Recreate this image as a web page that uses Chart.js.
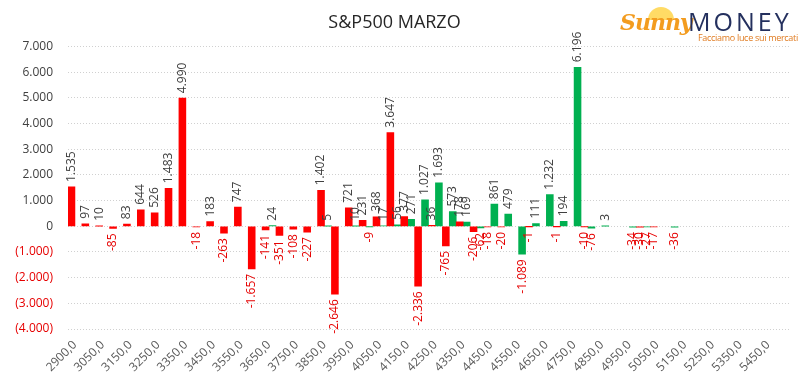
<!DOCTYPE html>
<html>
<head>
<meta charset="utf-8">
<script src="https://cdn.jsdelivr.net/npm/chart.js@4.4.1/dist/chart.umd.min.js"></script>
<style>
  html, body { margin: 0; padding: 0; background: #fff; }
  #wrap { position: relative; width: 806px; height: 384px; }
  #logo { position: absolute; left: 618px; top: 3px; width: 186px; height: 42px; font-family: "Open Sans", sans-serif; }
  #logo .sunny { position: absolute; left: 2px; top: 6px; font-family: "DejaVu Serif", serif; font-style: italic; font-weight: bold; font-size: 22px; color: #f39c1f; letter-spacing: -1px; }
  #logo .sun { position: absolute; left: 30px; top: 4px; width: 26px; height: 13px; border-radius: 13px 13px 0 0; background: #ffd23f; opacity: 0.8; }
  #logo .money { position: absolute; left: 70px; top: 1px; font-size: 25px; color: #24305e; letter-spacing: 3px; }
  #logo .tag { position: absolute; left: 80px; top: 28px; font-size: 9px; color: #e07b20; white-space: nowrap; letter-spacing: -0.3px; }
</style>
</head>
<body>
<div id="wrap">
  <canvas id="c" width="806" height="384"></canvas>
  <div id="logo"><div class="sun"></div><div class="sunny">Sunny</div><div class="money">MONEY</div><div class="tag">Facciamo luce sui mercati</div></div>
</div>
<script>
const title = "S&P500 MARZO";
const strikes = ["2900,0","3000,0","3050,0","3100,0","3150,0","3200,0","3250,0","3300,0","3350,0","3400,0",
  "3450,0","3500,0","3550,0","3600,0","3650,0","3700,0","3750,0","3800,0","3850,0","3900,0",
  "3950,0","4000,0","4050,0","4100,0","4150,0","4200,0","4250,0","4300,0","4350,0","4400,0",
  "4450,0","4500,0","4550,0","4600,0","4650,0","4700,0","4750,0","4800,0","4850,0","4900,0",
  "4950,0","5000,0","5050,0","5100,0","5150,0","5200,0","5250,0","5300,0","5350,0","5400,0",
  "5450,0","5500,0"];
const redValues = [1535, 97, 10, -85, 83, 644, 526, 1483, 4990, -18,
  183, -263, 747, -1657, -141, -351, -108, -227, 1402, -2646,
  721, 231, 368, 3647, 377, -2336, 36, -765, 178, -206,
  -18, -20, null, -1, null, -1, null, -10, null, null,
  null, -30, -17, null, null, null, null, null, null, null,
  null, null];
const greenValues = [null, null, null, null, null, null, null, null, null, null,
  null, null, null, null, 24, null, null, null, 5, null,
  10, -9, 17, 56, 271, 1027, 1693, 573, 169, -62,
  861, 479, -1089, 111, 1232, 194, 6196, -76, 3, null,
  -34, -27, null, -36, null, null, null, null, null, null,
  null, null];
const yMin = -4000, yMax = 7000, yStep = 1000;

const RED = '#ff0000', GREEN = '#00b050', NEG_TXT = '#e60000', POS_TXT = '#404040';

function fmt(v) {
  const s = String(Math.abs(Math.round(v))).replace(/\B(?=(\d{3})+(?!\d))/g, '.');
  return s;
}

const labelPlugin = {
  id: 'barLabels',
  afterDatasetsDraw(chart) {
    const ctx = chart.ctx;
    ctx.save();
    ctx.font = '12px "Open Sans"';
    ctx.textBaseline = 'middle';
    chart.data.datasets.forEach((ds, di) => {
      const meta = chart.getDatasetMeta(di);
      meta.data.forEach((el, i) => {
        const v = ds.data[i];
        if (v === null || v === undefined) return;
        const pad = 5;
        ctx.save();
        if (v >= 0) {
          const y = Math.min(el.y, el.base) - pad;
          ctx.translate(el.x, y);
          ctx.rotate(-Math.PI / 2);
          ctx.textAlign = 'left';
          ctx.fillStyle = POS_TXT;
          ctx.fillText(fmt(v), 0, 0);
        } else {
          const y = Math.max(el.y, el.base) + pad;
          ctx.translate(el.x, y);
          ctx.rotate(-Math.PI / 2);
          ctx.textAlign = 'right';
          ctx.fillStyle = NEG_TXT;
          ctx.fillText('-' + fmt(v), 0, 0);
        }
        ctx.restore();
      });
    });
    ctx.restore();
  }
};

new Chart(document.getElementById('c'), {
  type: 'bar',
  data: {
    labels: strikes,
    datasets: [
      { label: 'A', data: redValues, backgroundColor: RED, categoryPercentage: 1, barPercentage: 1 },
      { label: 'B', data: greenValues, backgroundColor: GREEN, categoryPercentage: 1, barPercentage: 1 }
    ]
  },
  options: {
    responsive: false,
    animation: false,
    events: [],
    layout: { padding: { left: 0, right: 17, top: 0, bottom: 0 } },
    plugins: {
      legend: { display: false },
      tooltip: { enabled: false },
      title: {
        display: true, text: title, color: '#262626',
        font: { family: '"Open Sans"', size: 18, weight: 'normal' },
        padding: { top: 12, bottom: 13 }
      }
    },
    scales: {
      x: {
        grid: { display: false, drawTicks: false },
        border: { display: false },
        ticks: {
          autoSkip: false, maxRotation: 45, minRotation: 45, padding: 9,
          color: '#595959', font: { family: '"Open Sans"', size: 12 },
          callback: function(val, idx) { return idx % 2 === 0 ? strikes[idx] : ''; }
        },
        afterFit(scale) { scale.height = 55; }
      },
      y: {
        min: yMin, max: yMax,
        grid: { color: '#d0d0d0', borderDash: [1, 2], drawTicks: false, lineWidth: 1 },
        border: { display: false, dash: [1, 2] },
        ticks: {
          stepSize: yStep, padding: 15,
          font: { family: '"Open Sans"', size: 12 },
          color: (c) => (c.tick && c.tick.value < 0) ? NEG_TXT : POS_TXT,
          callback: (v) => v < 0 ? '(' + fmt(v) + ')' : (v === 0 ? '0' : fmt(v))
        },
        afterFit(scale) { scale.width = 68; }
      }
    }
  },
  plugins: [labelPlugin]
});
</script>
</body>
</html>
